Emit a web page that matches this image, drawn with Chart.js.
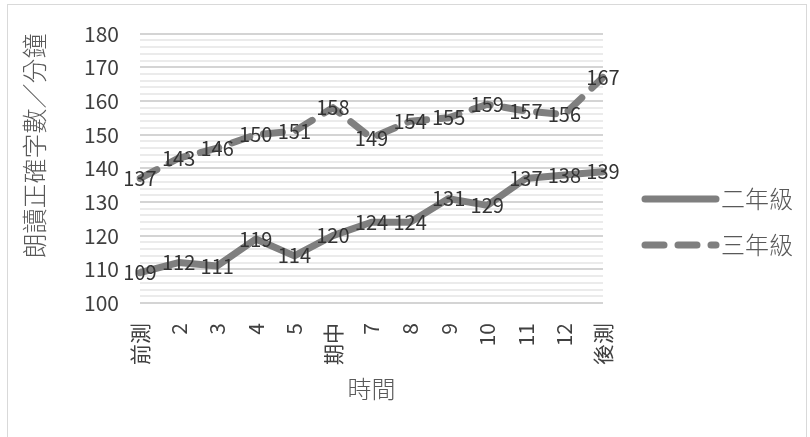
<!DOCTYPE html>
<html>
<head>
<meta charset="utf-8">
<script src="https://cdn.jsdelivr.net/npm/chart.js@4.4.1/dist/chart.umd.min.js"></script>
<style>
    html, body { margin: 0; padding: 0; background: #ffffff; }
    #wrap { position: relative; width: 810px; height: 437px; overflow: hidden; }
    #frame {
        position: absolute; left: 7px; top: 4px; width: 800px; height: 440px;
        border: 1px solid #d9d9d9; box-sizing: border-box;
    }
    #chart { position: absolute; left: 0; top: 0; }
</style>
</head>
<body>
<div id="wrap">
    <div id="frame"></div>
    <canvas id="chart" width="810" height="437"></canvas>
</div>
<script>
// Chart data
const labels = ['前測', '2', '3', '4', '5', '期中', '7', '8', '9', '10', '11', '12', '後測'];
const grade2 = [109, 112, 111, 119, 114, 120, 124, 124, 131, 129, 137, 138, 139];
const grade3 = [137, 143, 146, 150, 151, 158, 149, 154, 155, 159, 157, 156, 167];
const seriesNames = ['二年級', '三年級'];
const yMin = 100;
const yMax = 180;

const numFont = "'Liberation Sans Narrow', 'Noto Sans CJK TC', sans-serif";
const cjkFont = "'Noto Sans CJK TC', 'Noto Sans', sans-serif";
const lineGray = '#7f7f7f';

// draw the value of every point centred on it
const valueLabels = {
    id: 'valueLabels',
    afterDatasetsDraw(chart) {
        const ctx = chart.ctx;
        ctx.save();
        ctx.font = '20px ' + numFont;
        ctx.fillStyle = '#333333';
        ctx.textAlign = 'center';
        ctx.textBaseline = 'middle';
        chart.data.datasets.forEach((ds, i) => {
            chart.getDatasetMeta(i).data.forEach((pt, j) => {
                ctx.fillText(ds.data[j], pt.x, pt.y);
            });
        });
        ctx.restore();
    }
};

// legend on the right, drawn with the dataset's own line style
const sideLegend = {
    id: 'sideLegend',
    afterDraw(chart) {
        const ctx = chart.ctx;
        const x0 = chart.chartArea.right + 42;
        const x1 = x0 + 71;
        ctx.save();
        chart.data.datasets.forEach((ds, i) => {
            const y = 199 + i * 46;
            ctx.strokeStyle = ds.borderColor;
            ctx.lineWidth = ds.borderWidth;
            ctx.lineCap = 'round';
            ctx.setLineDash(ds.borderDash || []);
            ctx.beginPath();
            ctx.moveTo(x0, y);
            ctx.lineTo(x1, y);
            ctx.stroke();
            ctx.setLineDash([]);
            ctx.font = '300 24px ' + cjkFont;
            ctx.fillStyle = '#595959';
            ctx.textAlign = 'left';
            ctx.textBaseline = 'middle';
            ctx.fillText(ds.label, x1 + 5, y);
        });
        ctx.restore();
    }
};

const ctx = document.getElementById('chart').getContext('2d');
new Chart(ctx, {
    type: 'line',
    data: {
        labels: labels,
        datasets: [
            {
                label: seriesNames[0],
                data: grade2,
                borderColor: lineGray,
                borderWidth: 7,
                borderCapStyle: 'round',
                borderJoinStyle: 'round',
                pointRadius: 0,
                tension: 0
            },
            {
                label: seriesNames[1],
                data: grade3,
                borderColor: lineGray,
                borderWidth: 7,
                borderDash: [19, 14],
                borderCapStyle: 'round',
                borderJoinStyle: 'round',
                pointRadius: 0,
                tension: 0
            }
        ]
    },
    options: {
        responsive: false,
        animation: false,
        layout: {
            padding: { left: 8, right: 207, top: 33, bottom: 34 }
        },
        plugins: {
            legend: { display: false },
            tooltip: { enabled: false }
        },
        scales: {
            x: {
                grid: { display: false },
                border: { display: false },
                ticks: {
                    color: '#404040',
                    font: { family: numFont, size: 21 },
                    minRotation: 90,
                    maxRotation: 90,
                    autoSkip: false,
                    padding: 12
                },
                title: {
                    display: true,
                    text: '時間',
                    color: '#595959',
                    font: { family: cjkFont, size: 24, weight: 300 },
                    padding: 0
                },
                afterFit: function(scale) {
                    scale.height = 100;
                }
            },
            y: {
                min: yMin,
                max: yMax,
                border: { display: false },
                grid: {
                    drawTicks: false,
                    color: c => (c.tick && c.tick.value % 10 === 0) ? '#d4d4d4' : '#ebebeb',
                    lineWidth: 2
                },
                ticks: {
                    stepSize: 2,
                    autoSkip: false,
                    padding: 21,
                    color: '#404040',
                    font: { family: numFont, size: 21 },
                    callback: function(value) {
                        return value % 10 === 0 ? value : '';
                    }
                },
                title: {
                    display: true,
                    text: '朗讀正確字數／分鐘',
                    align: 'end',
                    color: '#595959',
                    font: { family: cjkFont, size: 25, weight: 300 },
                    padding: { top: 11, bottom: 0 }
                },
                afterFit: function(scale) {
                    scale.width = 132;
                }
            }
        }
    },
    plugins: [valueLabels, sideLegend]
});
</script>
</body>
</html>
